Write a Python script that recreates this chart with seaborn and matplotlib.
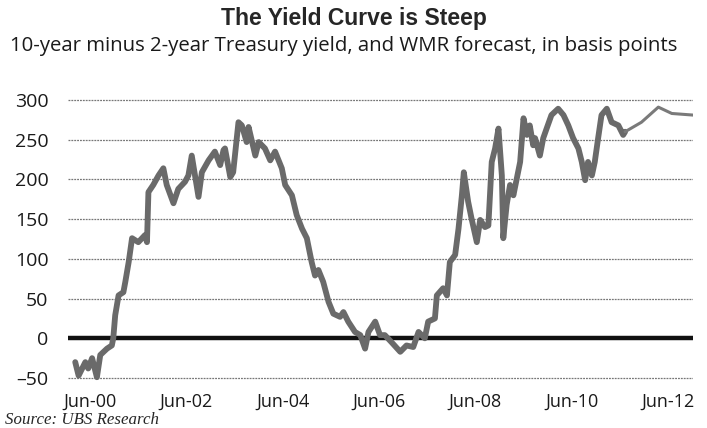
import numpy as np
import pandas as pd
import matplotlib
matplotlib.use("Agg")
import matplotlib.pyplot as plt
import seaborn as sns

# 10y - 2y spread (bp); x in decimal years
actual_year = [2000.19, 2000.26, 2000.40, 2000.46, 2000.54, 2000.64, 2000.71, 2000.85, 2000.95, 2000.98,
               2001.02, 2001.09, 2001.19, 2001.23, 2001.30, 2001.37, 2001.50, 2001.64, 2001.68, 2001.71,
               2001.81, 2001.92, 2002.02, 2002.09, 2002.23, 2002.33, 2002.47, 2002.54, 2002.61, 2002.75,
               2002.82, 2002.96, 2003.09, 2003.20, 2003.27, 2003.30, 2003.41, 2003.47, 2003.58, 2003.65,
               2003.75, 2003.79, 2003.93, 2004.00, 2004.13, 2004.24, 2004.34, 2004.48, 2004.55, 2004.69,
               2004.79, 2004.90, 2005.00, 2005.10, 2005.17, 2005.24, 2005.34, 2005.45, 2005.55, 2005.69,
               2005.76, 2005.86, 2006.00, 2006.11, 2006.21, 2006.28, 2006.42, 2006.52, 2006.62, 2006.76,
               2006.94, 2007.07, 2007.21, 2007.32, 2007.45, 2007.52, 2007.66, 2007.70, 2007.83, 2007.91,
               2007.97, 2008.08, 2008.15, 2008.22, 2008.26, 2008.35, 2008.42, 2008.53, 2008.60, 2008.70,
               2008.77, 2008.84, 2008.91, 2008.98, 2009.05, 2009.08, 2009.15, 2009.22, 2009.29, 2009.36,
               2009.43, 2009.50, 2009.57, 2009.63, 2009.70, 2009.74, 2009.84, 2009.91, 2009.98, 2010.08,
               2010.22, 2010.33, 2010.43, 2010.53, 2010.64, 2010.71, 2010.78, 2010.84, 2010.92, 2010.98,
               2011.05, 2011.12, 2011.23, 2011.33, 2011.47, 2011.57, 2011.61]
actual_bp = [-30, -47, -30, -38, -25, -49, -21, -13, -9, 0,
             29, 54, 58, 71, 96, 126, 121, 130, 121, 184,
             193, 205, 214, 193, 170, 188, 197, 205, 230, 178,
             209, 224, 235, 218, 237, 239, 203, 209, 272, 268,
             247, 266, 230, 247, 239, 224, 235, 214, 193, 180,
             155, 138, 126, 96, 79, 86, 71, 46, 31, 27,
             33, 21, 8, 4, -13, 8, 21, 4, 4, -5,
             -17, -9, -11, 8, 0, 21, 25, 54, 63, 54,
             96, 105, 138, 180, 209, 172, 151, 121, 149, 140,
             142, 222, 239, 264, 205, 126, 168, 193, 180, 201,
             222, 277, 256, 268, 243, 252, 230, 252, 264, 281,
             289, 281, 268, 252, 239, 222, 199, 222, 205, 222,
             252, 281, 289, 272, 268, 256, 260]

# WMR forecast
forecast_year = [2011.61, 2011.95, 2012.30, 2012.58, 2013.02]
forecast_bp = [260, 272, 291, 283, 281]

y_ticks = [-50, 0, 50, 100, 150, 200, 250, 300]
x_tick_pos = [2000.5, 2002.5, 2004.5, 2006.5, 2008.5, 2010.5, 2012.5]
x_tick_labels = ["Jun-00", "Jun-02", "Jun-04", "Jun-06", "Jun-08", "Jun-10", "Jun-12"]

sns.set_style("white")
plt.rcParams["font.family"] = ["Open Sans", "DejaVu Sans"]

fig = plt.figure(figsize=(7.07, 4.28), dpi=100)
ax = fig.add_axes([0.0962, 0.1075, 0.884, 0.6682])

# grid
for v in y_ticks:
    if v == 0:
        ax.axhline(v, color="#111111", lw=3.2, zorder=1)
    else:
        ax.axhline(v, color="#777777", lw=0.9, ls=(0, (1.5, 0.8)), zorder=1)

df_a = pd.DataFrame({"year": actual_year, "bp": actual_bp})
df_f = pd.DataFrame({"year": forecast_year, "bp": forecast_bp})
sns.lineplot(data=df_a, x="year", y="bp", ax=ax, color="#6a6a6a", lw=4.2, zorder=3)
sns.lineplot(data=df_f, x="year", y="bp", ax=ax, color="#7a7a7a", lw=2.2, zorder=3)

ax.set_xlim(2000.04, 2013.02)
ax.set_ylim(-55, 305)
ax.set_yticks(y_ticks)
ax.set_yticklabels([f"{v:d}".replace("-", "\u2013") for v in y_ticks])
ax.set_xticks(x_tick_pos)
ax.set_xticklabels(x_tick_labels)
ax.tick_params(axis="y", length=0, pad=14, labelsize=14, colors="#1a1a1a")
ax.tick_params(axis="x", length=0, pad=8, labelsize=13, colors="#1a1a1a")
ax.set_xlabel("")
ax.set_ylabel("")
sns.despine(ax=ax, left=True, bottom=True)

fig.text(0.5, 0.956, "The Yield Curve is Steep", ha="center", va="center",
         fontsize=16.5, fontweight="bold", family=["Liberation Sans", "DejaVu Sans"])
fig.text(0.014, 0.893, "10-year minus 2-year Treasury yield, and WMR forecast, in basis points",
         ha="left", va="center", fontsize=14.7, color="#1a1a1a")
fig.text(0.007, 0.019, "Source: UBS Research", ha="left", va="center",
         fontsize=12.2, style="italic", family=["Liberation Serif", "DejaVu Serif"])

fig.savefig("out.png", dpi=100)
